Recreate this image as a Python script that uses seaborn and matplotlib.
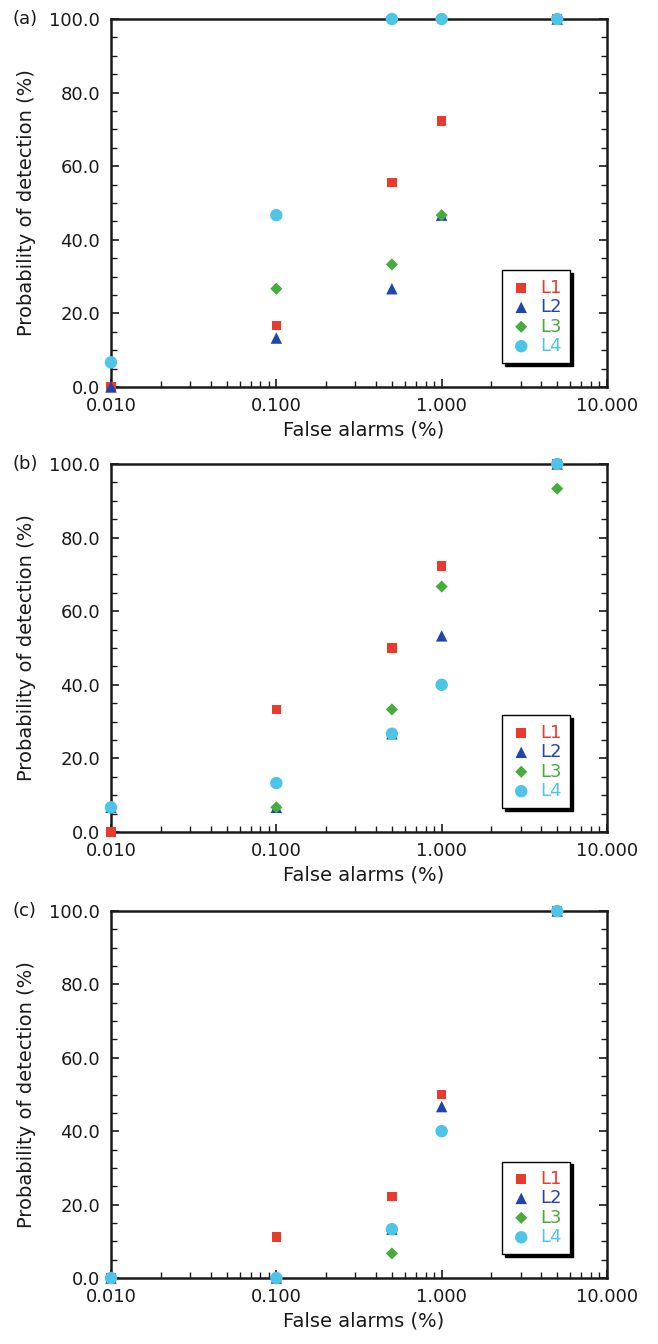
import numpy as np
import pandas as pd
import matplotlib
matplotlib.use("Agg")
import matplotlib.pyplot as plt
import matplotlib.ticker as mticker
import seaborn as sns

sns.set_theme(style="white")
plt.rcParams['font.family'] = ['DejaVu Sans']

# ---- data ----
false_alarms = [0.01, 0.1, 0.5, 1.0, 5.0]
series_names = ["L1", "L2", "L3", "L4"]

a_L1 = [0.0, 16.7, 55.6, 72.2, 100.0]
a_L2 = [0.0, 13.3, 26.7, 46.7, 100.0]
a_L3 = [6.7, 26.7, 33.3, 46.7, 100.0]
a_L4 = [6.7, 46.7, 100.0, 100.0, 100.0]

b_L1 = [0.0, 33.3, 50.0, 72.2, 100.0]
b_L2 = [6.7, 6.7, 26.7, 53.3, 100.0]
b_L3 = [6.7, 6.7, 33.3, 66.7, 93.3]
b_L4 = [6.7, 13.3, 26.7, 40.0, 100.0]

c_L1 = [0.0, 11.1, 22.2, 50.0, 100.0]
c_L2 = [0.0, 0.0, 13.3, 46.7, 100.0]
c_L3 = [0.0, 0.0, 6.7, 40.0, 100.0]
c_L4 = [0.0, 0.0, 13.3, 40.0, 100.0]

panel_labels = ["(a)", "(b)", "(c)"]
panels = [
    [a_L1, a_L2, a_L3, a_L4],
    [b_L1, b_L2, b_L3, b_L4],
    [c_L1, c_L2, c_L3, c_L4],
]
x_ticks = [0.01, 0.1, 1.0, 10.0]
y_ticks = [0, 20, 40, 60, 80, 100]

colors = {"L1": "#EA3A2C", "L2": "#1F45AE", "L3": "#45AD3C", "L4": "#4EC4E8"}
markers = {"L1": "s", "L2": "^", "L3": "D", "L4": "o"}
sizes = {"L1": 48, "L2": 68, "L3": 38, "L4": 80}

fig = plt.figure(figsize=(6.58, 13.44), dpi=100)
fig.patch.set_facecolor("white")

W, H = 658, 1344
left_px, right_px = 111, 607
tops = [19, 464, 911]
bottoms = [387, 832, 1278]

for k in range(3):
    l = left_px / W
    w = (right_px - left_px) / W
    b = 1 - bottoms[k] / H
    h = (bottoms[k] - tops[k]) / H
    ax = fig.add_axes([l, b, w, h])
    ax.set_facecolor("white")

    rows = []
    for name, vals in zip(series_names, panels[k]):
        for xv, yv in zip(false_alarms, vals):
            rows.append({"fa": xv, "pd": yv, "series": name})
    df = pd.DataFrame(rows)

    for z, name in enumerate(series_names):
        sub = df[df["series"] == name]
        sns.scatterplot(data=sub, x="fa", y="pd", marker=markers[name],
                        color=colors[name], s=sizes[name], linewidth=0,
                        edgecolor="none", ax=ax, label=name, zorder=3 + z,
                        clip_on=False, legend=True)

    ax.set_xscale("log")
    ax.set_xlim(0.01, 10)
    ax.set_ylim(0, 100)
    ax.set_xticks(x_ticks)
    ax.xaxis.set_major_formatter(mticker.FuncFormatter(lambda v, p: f"{v:.3f}"))
    ax.xaxis.set_minor_locator(mticker.LogLocator(base=10, subs=np.arange(2, 10)))
    ax.xaxis.set_minor_formatter(mticker.NullFormatter())
    ax.set_yticks(y_ticks)
    ax.yaxis.set_major_formatter(mticker.FuncFormatter(lambda v, p: f"{v:.1f}"))
    ax.yaxis.set_minor_locator(mticker.MultipleLocator(5))

    ax.tick_params(axis="both", which="both", direction="in", color="#1a1a1a",
                   labelsize=13, labelcolor="#1a1a1a")
    ax.tick_params(axis="y", which="both", left=True, right=True)
    ax.tick_params(axis="x", which="both", bottom=True, top=False)
    ax.tick_params(which="major", length=6, width=1.2)
    ax.tick_params(which="minor", length=4, width=1.0)
    ax.tick_params(axis="x", which="major", pad=7)
    ax.tick_params(axis="y", which="major", pad=8)

    for sp in ax.spines.values():
        sp.set_visible(True)
        sp.set_color("#1a1a1a")
        sp.set_linewidth(1.8)

    ax.set_xlabel("False alarms (%)", fontsize=14, color="#1a1a1a")
    ax.set_ylabel("Probability of detection (%)", fontsize=14, color="#1a1a1a")
    ax.xaxis.set_label_coords(0.51, -0.117)
    ax.xaxis.label.set_va("center")
    ax.yaxis.set_label_coords(-0.171, 0.5)
    ax.yaxis.label.set_va("center")

    ax.text(-0.198, 1.0, panel_labels[k], transform=ax.transAxes,
            fontsize=13, ha="left", va="center", color="#1a1a1a")

    leg = ax.legend(loc="lower right", bbox_to_anchor=(0.925, 0.065),
                    frameon=True, fancybox=False, shadow={"color": "black", "alpha": 1.0},
                    fontsize=13, labelspacing=0.08, handletextpad=0.45,
                    borderpad=0.45, handlelength=1.2, borderaxespad=0)
    leg.get_frame().set_edgecolor("black")
    leg.get_frame().set_linewidth(1.0)
    for txt, name in zip(leg.get_texts(), series_names):
        txt.set_color(colors[name])

fig.savefig("out.png", dpi=100, facecolor="white")
